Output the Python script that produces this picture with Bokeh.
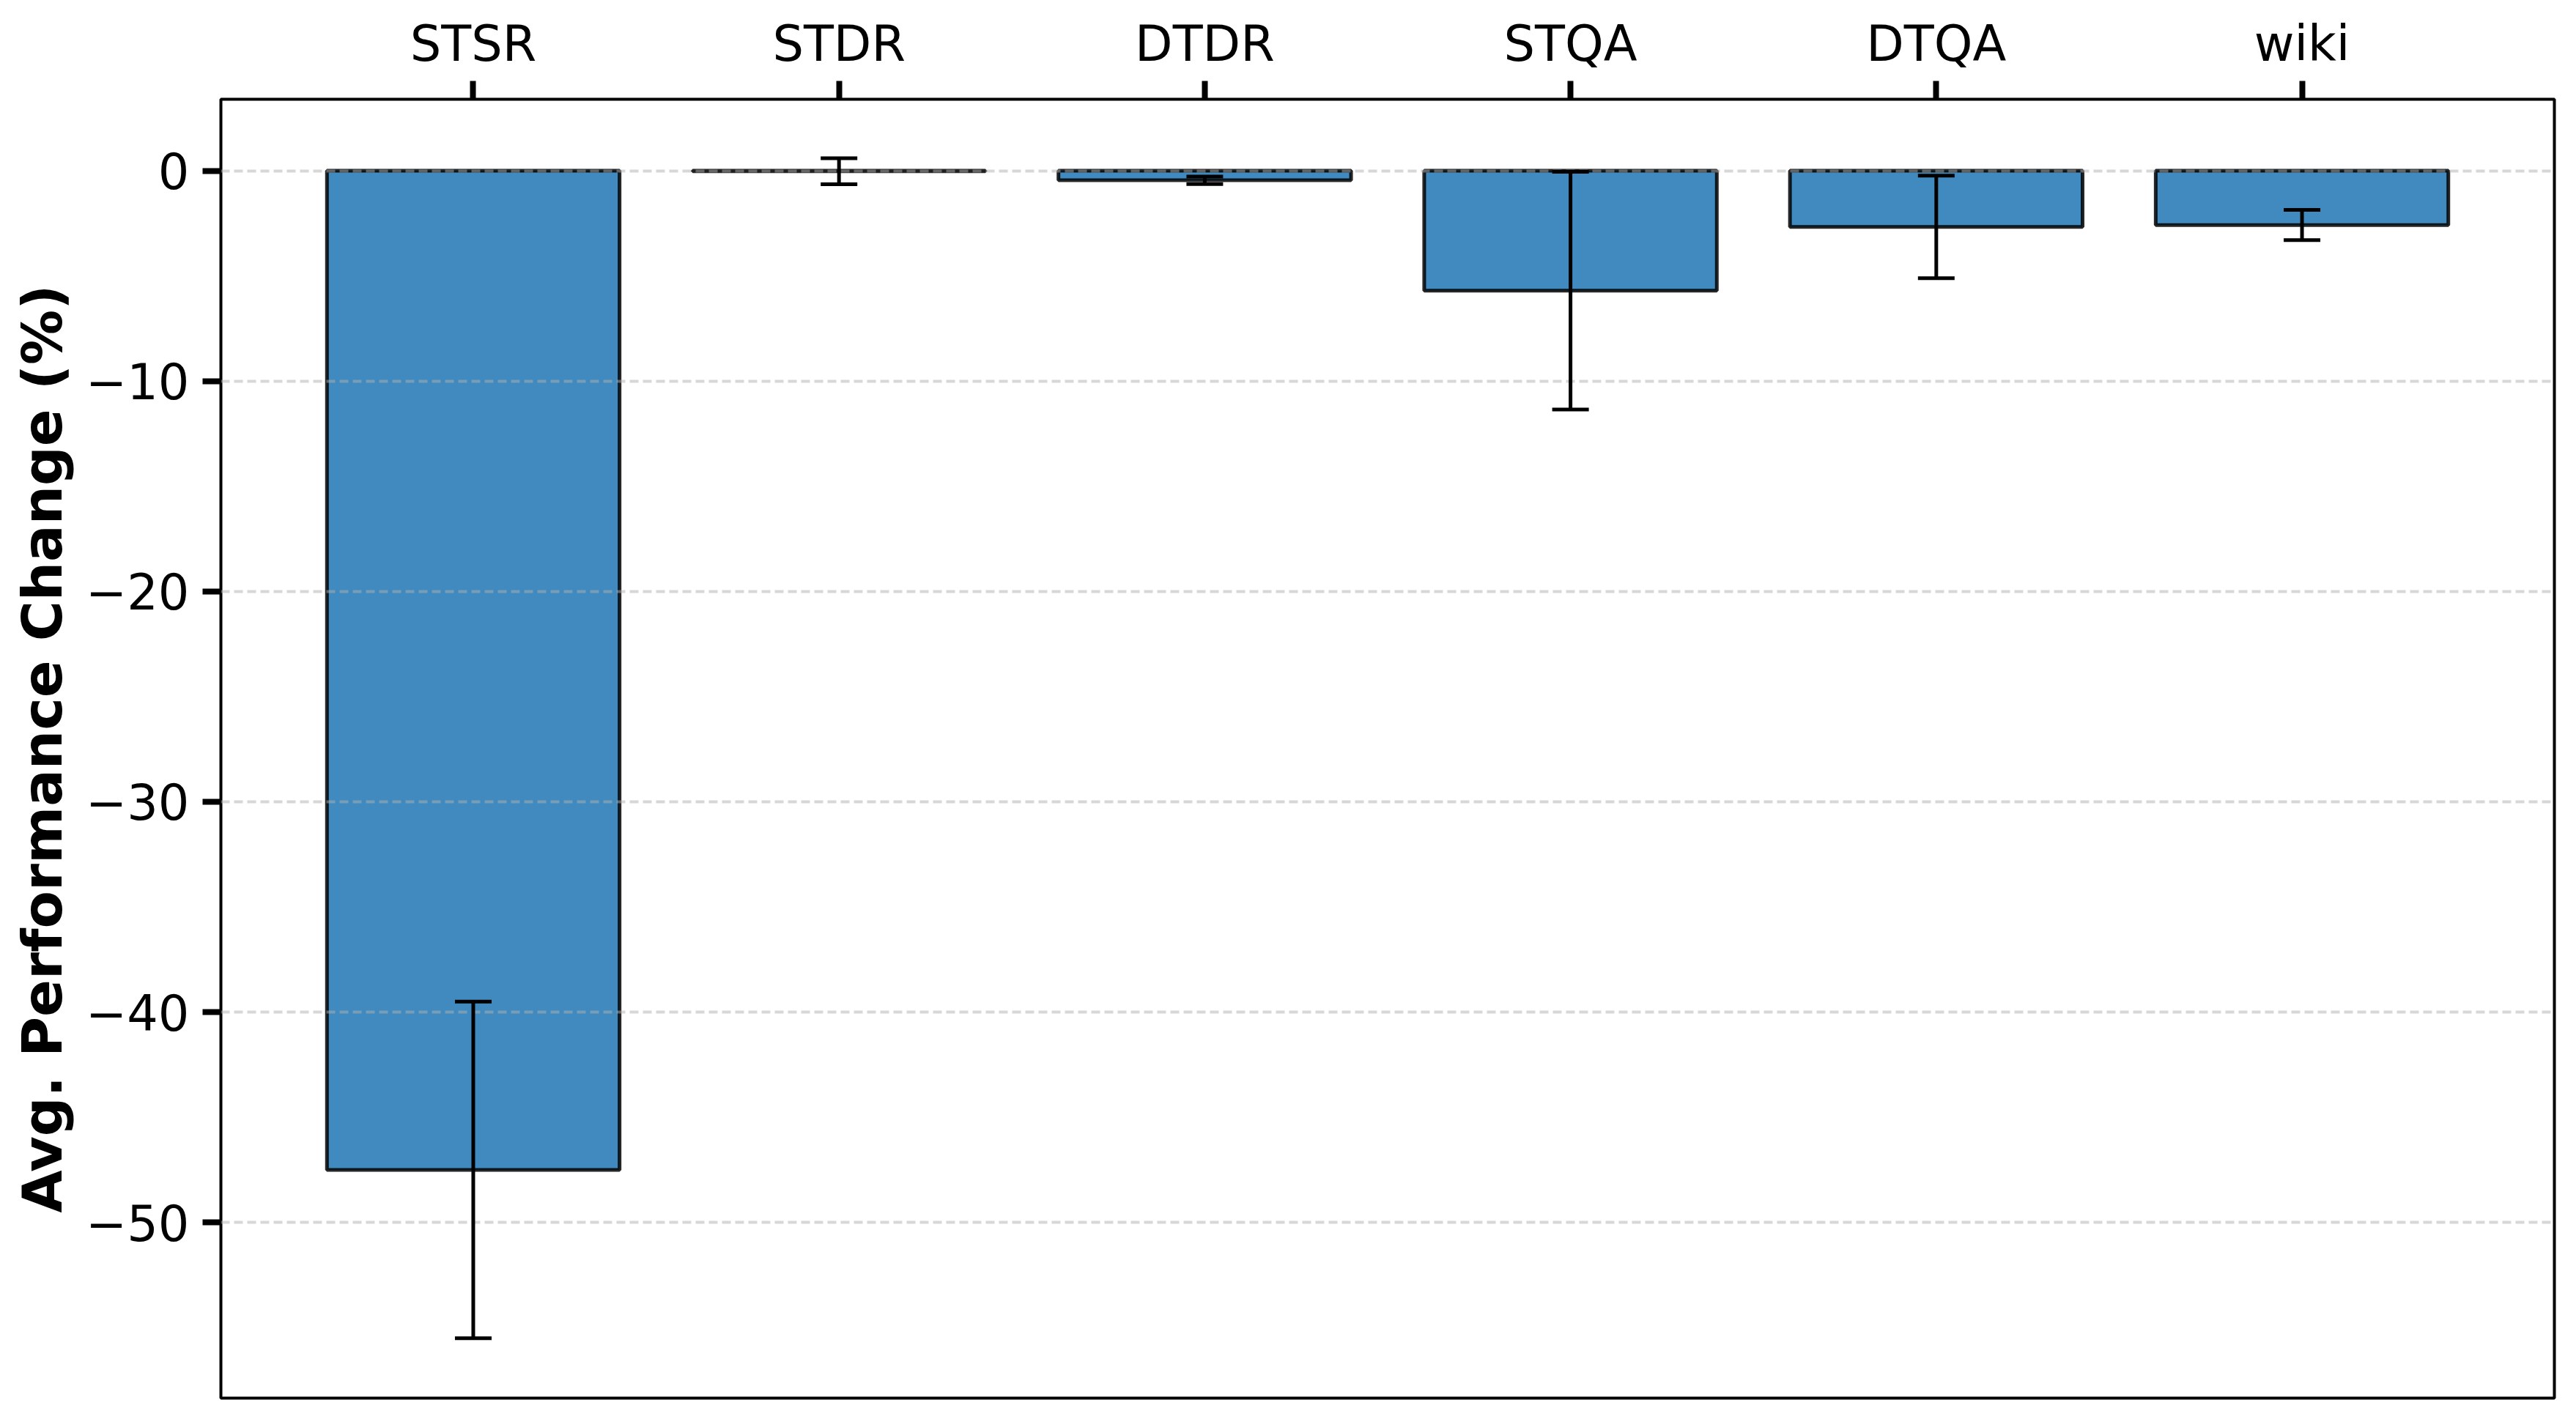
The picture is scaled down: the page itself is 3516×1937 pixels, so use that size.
from bokeh.plotting import figure
from bokeh.models import Range1d, FixedTicker, Whisker, TeeHead, ColumnDataSource
from bokeh.embed import file_html
from bokeh.resources import INLINE

categories = ["STSR", "STDR", "DTDR", "STQA", "DTQA", "wiki"]
mean_change = [-47.5, -0.02, -0.45, -5.70, -2.67, -2.58]
std_change = [8.0, 0.62, 0.18, 5.65, 2.44, 0.72]
y_ticks = [-50, -40, -30, -20, -10, 0]
y_tick_labels = ["\u221250", "\u221240", "\u221230", "\u221220", "\u221210", "0"]

xpos = list(range(len(categories)))
upper = [m + s for m, s in zip(mean_change, std_change)]
lower = [m - s for m, s in zip(mean_change, std_change)]

src = ColumnDataSource(dict(x=xpos, cat=categories, mean=mean_change,
                            upper=upper, lower=lower))

p = figure(width=3500, height=1921, output_backend="svg", toolbar_location=None,
           x_range=Range1d(-0.69, 5.69), y_range=Range1d(-58.35, 3.40),
           x_axis_location="above",
           min_border_left=301, min_border_right=14,
           min_border_top=135, min_border_bottom=13)

p.background_fill_color = "white"
p.border_fill_color = "white"
p.outline_line_color = "black"
p.outline_line_width = 4
p.outline_line_alpha = 1.0

p.vbar(x="x", width=0.8, top=0, bottom="mean", source=src,
       fill_color="#418abf", line_color="black", line_alpha=0.85, line_width=5)

# dashed horizontal grid drawn above the bars (as in the reference)
p.xgrid.visible = False
p.ygrid.visible = False
p.hspan(y=y_ticks, line_color="#b0b0b0", line_alpha=0.5, line_width=4,
        line_dash="12 6")

w = Whisker(source=src, base="x", upper="upper", lower="lower", dimension="height",
            line_color="black", line_width=5, level="overlay",
            upper_head=TeeHead(size=50, line_width=5, line_color="black"),
            lower_head=TeeHead(size=50, line_width=5, line_color="black"))
p.add_layout(w)

for ax in (p.xaxis[0], p.yaxis[0]):
    ax.axis_line_color = None
    ax.major_tick_out = 25
    ax.major_tick_in = 0
    ax.major_tick_line_width = 8
    ax.major_tick_line_color = "black"
    ax.minor_tick_line_color = None
    ax.major_label_text_font = "DejaVu Sans"
    ax.major_label_text_font_size = "67px"
    ax.major_label_text_color = "black"

p.xaxis.ticker = FixedTicker(ticks=xpos)
p.xaxis.major_label_overrides = dict(zip(xpos, categories))
p.xaxis.major_label_standoff = 12

p.yaxis.ticker = FixedTicker(ticks=y_ticks)
p.yaxis.major_label_overrides = dict(zip(y_ticks, y_tick_labels))
p.yaxis.major_label_standoff = 18
p.yaxis.axis_label = "Avg. Performance Change (%)"
p.yaxis.axis_label_text_font = "DejaVu Sans"
p.yaxis.axis_label_text_font_style = "bold"
p.yaxis.axis_label_text_font_size = "75px"
p.yaxis.axis_label_text_color = "black"
p.yaxis.axis_label_standoff = 12

open("out.html", "w").write(file_html(p, INLINE))
